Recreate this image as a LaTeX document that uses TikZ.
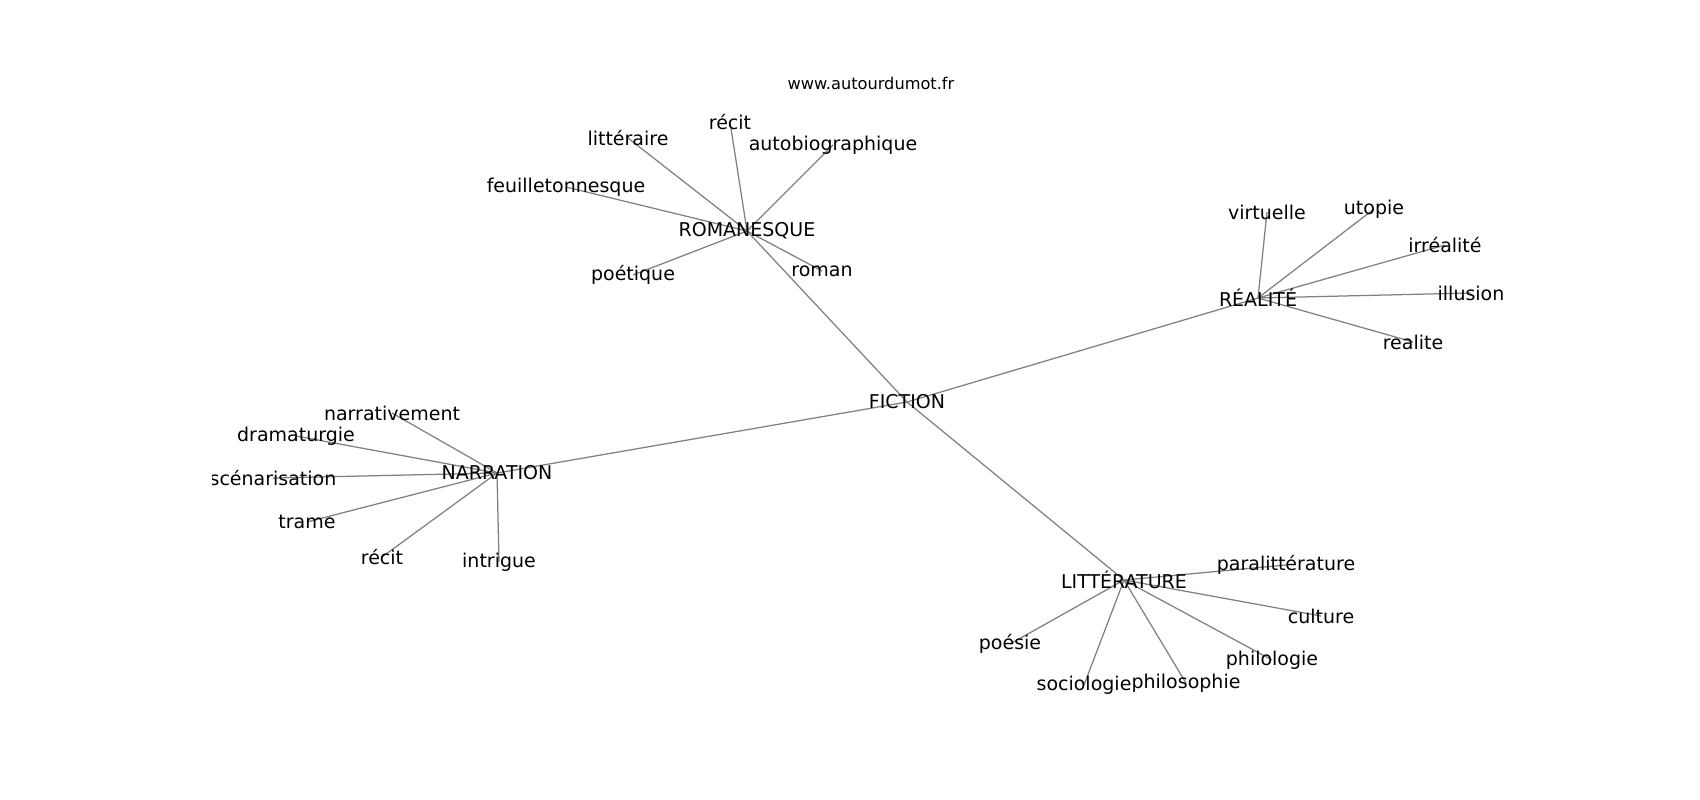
\documentclass[tikz,border=0pt]{standalone}
\usepackage{fontspec}
\setmainfont{DejaVu Sans}
\usetikzlibrary{backgrounds}

\tikzset{
  word/.style={inner sep=0pt, font=\fontsize{19}{21}\selectfont},
  link/.style={color={rgb, 255:red, 128; green, 128; blue, 128}, line width=1.25pt}
}

\begin{document}
\begin{tikzpicture}[x=1pt,y=1pt,yscale=-1]
\useasboundingbox (0,0) rectangle (1700,800);

% Title
\node (site) at (871,83) [inner sep=0pt, font=\fontsize{16.2}{18}\selectfont] {www.autourdumot.fr};

\begin{scope}
\clip (212.5,96) rectangle (1530,712);

% Centre
\node [word] (fiction) at (907,402) {FICTION};

% ROMANESQUE
\node [word] (romanesque) at (747,231) {ROMANESQUE};
\node [word] (litteraire) at (628,138) {littéraire};
\node [word] (rom-recit) at (730,122) {récit};
\node [word] (autobio) at (833,145) {autobiographique};
\node [word] (feuilleton) at (566,187) {feuilletonnesque};
\node [word] (poetique) at (633,275) {poétique};
\node [word] (roman) at (822,271) {roman};

% RÉALITÉ
\node [word] (realite) at (1258,298) {RÉALITÉ};
\node [word] (virtuelle) at (1267,212) {virtuelle};
\node [word] (utopie) at (1374,209) {utopie};
\node [word] (irrealite) at (1445,245) {irréalité};
\node [word] (illusion) at (1471,293) {illusion};
\node [word] (realite-min) at (1413,342) {realite};

% NARRATION
\node [word] (narration) at (497,473) {NARRATION};
\node [word] (narrativement) at (392,413) {narrativement};
\node [word] (dramaturgie) at (296,436) {dramaturgie};
\node [word] (scenarisation) at (273,478) {scénarisation};
\node [word] (trame) at (307,522) {trame};
\node [word] (nar-recit) at (382,557) {récit};
\node [word] (intrigue) at (499,562) {intrigue};

% LITTÉRATURE
\node [word] (litterature) at (1124,580) {LITTÉRATURE};
\node [word] (paralitt) at (1286,565) {paralittérature};
\node [word] (culture) at (1321,616) {culture};
\node [word] (philologie) at (1272,660) {philologie};
\node [word] (philosophie) at (1186,683) {philosophie};
\node [word] (sociologie) at (1084,685) {sociologie};
\node [word] (poesie) at (1010,644) {poésie};

\begin{scope}[on background layer]
%Straight Lines: hubs
\draw [link] (fiction.center) -- (romanesque.center);
\draw [link] (fiction.center) -- (realite.center);
\draw [link] (fiction.center) -- (narration.center);
\draw [link] (fiction.center) -- (litterature.center);
%Straight Lines: romanesque
\draw [link] (romanesque.center) -- (litteraire.center);
\draw [link] (romanesque.center) -- (rom-recit.center);
\draw [link] (romanesque.center) -- (autobio.center);
\draw [link] (romanesque.center) -- (feuilleton.center);
\draw [link] (romanesque.center) -- (poetique.center);
\draw [link] (romanesque.center) -- (roman.center);
%Straight Lines: realite
\draw [link] (realite.center) -- (virtuelle.center);
\draw [link] (realite.center) -- (utopie.center);
\draw [link] (realite.center) -- (irrealite.center);
\draw [link] (realite.center) -- (illusion.center);
\draw [link] (realite.center) -- (realite-min.center);
%Straight Lines: narration
\draw [link] (narration.center) -- (narrativement.center);
\draw [link] (narration.center) -- (dramaturgie.center);
\draw [link] (narration.center) -- (scenarisation.center);
\draw [link] (narration.center) -- (trame.center);
\draw [link] (narration.center) -- (nar-recit.center);
\draw [link] (narration.center) -- (intrigue.center);
%Straight Lines: litterature
\draw [link] (litterature.center) -- (paralitt.center);
\draw [link] (litterature.center) -- (culture.center);
\draw [link] (litterature.center) -- (philologie.center);
\draw [link] (litterature.center) -- (philosophie.center);
\draw [link] (litterature.center) -- (sociologie.center);
\draw [link] (litterature.center) -- (poesie.center);
\end{scope}
\end{scope}

\end{tikzpicture}
\end{document}
